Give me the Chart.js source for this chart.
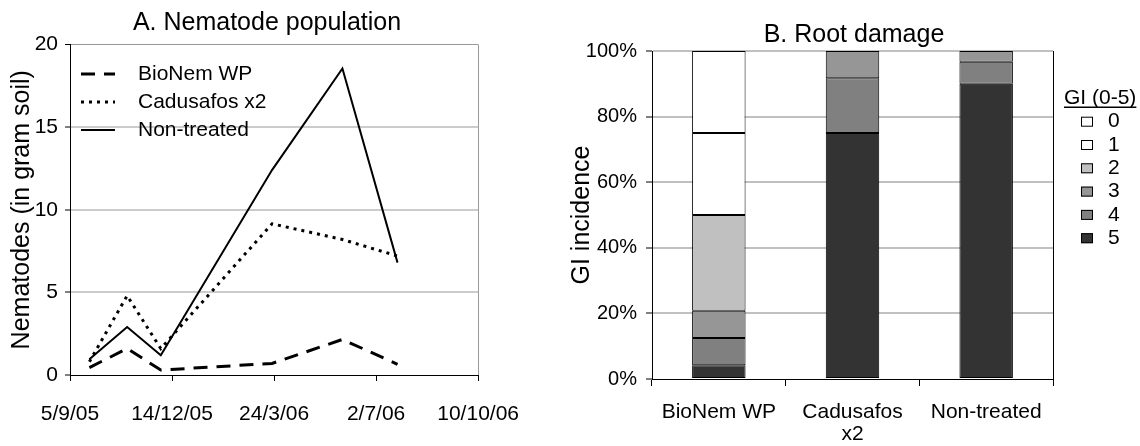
<!DOCTYPE html>
<html>
<head>
<meta charset="utf-8">
<script src="https://cdn.jsdelivr.net/npm/chart.js@4.4.1/dist/chart.umd.min.js"></script>
<style>
  body { margin: 0; background: #fff; }
  canvas { position: absolute; top: 0; }
</style>
</head>
<body>
<canvas id="popChart" width="540" height="446" style="left:0"></canvas>
<canvas id="rootChart" width="600" height="446" style="left:540px"></canvas>
<script>
// A. Nematode population
const startDate = '2005-09-05';
const xTickLabels = ['5/9/05', '14/12/05', '24/3/06', '2/7/06', '10/10/06'];
const sampleDates = ['2005-09-24', '2005-10-31', '2005-12-03', '2006-03-22', '2006-05-30', '2006-07-23'];
const bioNem = [0.45, 1.6, 0.3, 0.7, 2.15, 0.65];
const cadusafos = [0.8, 4.8, 1.6, 9.15, 8.2, 7.2];
const nonTreated = [0.95, 2.9, 1.2, 12.4, 18.55, 6.8];

// B. Root damage (% of plants per GI class)
const treatments = ['BioNem WP', ['Cadusafos', 'x2'], 'Non-treated'];
const giLevels = ['0', '1', '2', '3', '4', '5'];
const gi0 = [25, 0, 0];
const gi1 = [25, 0, 0];
const gi2 = [29.2, 0, 0];
const gi3 = [8.3, 8.3, 3.3];
const gi4 = [8.3, 16.7, 6.7];
const gi5 = [4.2, 75, 90];
const giColors = ['#ffffff', '#ffffff', '#c0c0c0', '#969696', '#808080', '#333333'];

const FONT = "'Liberation Sans', Arial, sans-serif";
Chart.defaults.font.family = FONT;
Chart.defaults.color = '#000';

function dayNumber(s) {
    return (Date.parse(s) - Date.parse(startDate)) / 86400000;
}

function points(values) {
    return values.map((v, i) => ({ x: dayNumber(sampleDates[i]), y: v }));
}

// legend inside the plot area (left chart)
const lineLegend = {
    id: 'lineLegend',
    afterDraw(chart) {
        const { ctx, chartArea } = chart;
        ctx.save();
        ctx.font = '21px ' + FONT;
        ctx.textBaseline = 'middle';
        ctx.fillStyle = '#000';
        chart.data.datasets.forEach((ds, i) => {
            const y = chartArea.top + 29.5 + i * 28;
            ctx.beginPath();
            ctx.lineWidth = ds.borderWidth;
            ctx.setLineDash(ds.borderDash || []);
            ctx.strokeStyle = ds.borderColor;
            ctx.moveTo(chartArea.left + 11, y);
            ctx.lineTo(chartArea.left + 45, y);
            ctx.stroke();
            ctx.fillText(ds.label, chartArea.left + 68, y);
        });
        ctx.restore();
    }
};

// GI legend on the right (right chart)
const giLegend = {
    id: 'giLegend',
    afterDraw(chart) {
        const { ctx, chartArea } = chart;
        const x0 = chartArea.right;
        const y0 = chartArea.top;
        ctx.save();
        ctx.font = '21px ' + FONT;
        ctx.textBaseline = 'middle';
        ctx.fillStyle = '#000';
        ctx.fillText('GI (0-5)', x0 + 11, y0 + 47.5);
        const w = ctx.measureText('GI (0-5)').width;
        ctx.fillRect(x0 + 11, y0 + 55.5, w, 1.5);
        giLevels.forEach((lvl, i) => {
            const y = y0 + 70.7 + i * 23.3;
            ctx.fillStyle = giColors[i];
            ctx.fillRect(x0 + 28, y - 5, 12, 10);
            ctx.strokeStyle = '#000';
            ctx.lineWidth = 1;
            ctx.strokeRect(x0 + 28.5, y - 4.5, 11, 9);
            ctx.fillStyle = '#000';
            ctx.fillText(lvl, x0 + 55, y);
        });
        ctx.restore();
    }
};

new Chart(document.getElementById('popChart'), {
    type: 'line',
    data: {
        datasets: [
            { label: 'BioNem WP', data: points(bioNem), borderColor: '#000', borderWidth: 3, borderDash: [14, 9] },
            { label: 'Cadusafos x2', data: points(cadusafos), borderColor: '#000', borderWidth: 3, borderDash: [3, 5] },
            { label: 'Non-treated', data: points(nonTreated), borderColor: '#000', borderWidth: 2 }
        ]
    },
    options: {
        responsive: false,
        animation: false,
        layout: { padding: { left: 0, right: 6, top: 0, bottom: 0 } },
        elements: { point: { radius: 0 }, line: { tension: 0 } },
        plugins: {
            legend: { display: false },
            tooltip: { enabled: false },
            title: {
                display: true,
                text: 'A. Nematode population',
                font: { size: 25, weight: 'normal' },
                padding: { top: 8.5, bottom: 6 }
            }
        },
        scales: {
            x: {
                type: 'linear',
                min: 0,
                max: 400,
                ticks: { stepSize: 100, font: { size: 21 }, padding: 21, callback: v => xTickLabels[v / 100] },
                grid: {
                    color: c => (c.tick && c.tick.value === 400 ? '#999' : 'transparent'),
                    tickColor: '#000',
                    tickLength: 6
                },
                border: { color: '#000' },
                afterFit: s => { s.height = 71; }
            },
            y: {
                min: 0,
                max: 20,
                ticks: { stepSize: 5, font: { size: 21 }, padding: 7 },
                grid: {
                    color: c => (c.tick.value === 0 ? 'transparent' : c.tick.value === 20 ? '#999' : '#cccccc'),
                    lineWidth: c => (c.tick.value === 20 ? 1 : 2),
                    tickColor: '#000',
                    tickWidth: 1,
                    tickLength: 5
                },
                border: { color: '#000' },
                title: {
                    display: true,
                    text: 'Nematodes (in gram soil)',
                    font: { size: 25 },
                    padding: { top: 7.5, bottom: 0 }
                },
                afterFit: s => { s.width = 70; }
            },
            yR: {
                position: 'right',
                ticks: { display: false },
                grid: { display: false },
                border: { display: false },
                afterFit: s => { s.width = 53; }
            }
        }
    },
    plugins: [lineLegend]
});

const giValues = [gi0, gi1, gi2, gi3, gi4, gi5];

new Chart(document.getElementById('rootChart'), {
    type: 'bar',
    data: {
        labels: treatments,
        // GI 5 at the bottom of each stack
        datasets: giLevels.map((lvl, i) => ({
            label: lvl,
            data: giValues[i],
            backgroundColor: giColors[i],
            borderColor: '#000',
            borderWidth: 1,
            borderSkipped: false
        })).reverse()
    },
    options: {
        responsive: false,
        animation: false,
        layout: { padding: { left: 28, right: 0, top: 0, bottom: 0 } },
        datasets: { bar: { barPercentage: 0.4, categoryPercentage: 1 } },
        plugins: {
            legend: { display: false },
            tooltip: { enabled: false },
            title: {
                display: true,
                text: 'B. Root damage',
                font: { size: 25, weight: 'normal' },
                padding: { top: 20, bottom: 1 }
            }
        },
        scales: {
            x: {
                stacked: true,
                ticks: { font: { size: 21, lineHeight: 1.05 }, padding: 15.5 },
                grid: {
                    offset: true,
                    color: c => (c.type === 'scale' ? '#000' : 'transparent'),
                    tickColor: '#000',
                    tickLength: 7
                },
                border: { color: '#000' },
                afterFit: s => { s.height = 67; }
            },
            y: {
                stacked: true,
                min: 0,
                max: 100,
                ticks: { stepSize: 20, font: { size: 20 }, padding: 9, callback: v => v + '%' },
                grid: {
                    color: c => (c.tick.value === 0 ? 'transparent' : '#c0c0c0'),
                    lineWidth: 2,
                    tickColor: '#000',
                    tickWidth: 1,
                    tickLength: 6
                },
                border: { color: '#000' },
                title: {
                    display: true,
                    text: 'GI incidence',
                    font: { size: 25, lineHeight: 1 },
                    padding: { top: 1.5, bottom: 0 }
                },
                afterFit: s => { s.width = 84; }
            },
            gap: {
                position: 'right',
                ticks: { display: false },
                grid: { display: false },
                border: { display: false },
                afterFit: s => { s.width = 87; }
            }
        }
    },
    plugins: [giLegend]
});
</script>
</body>
</html>
